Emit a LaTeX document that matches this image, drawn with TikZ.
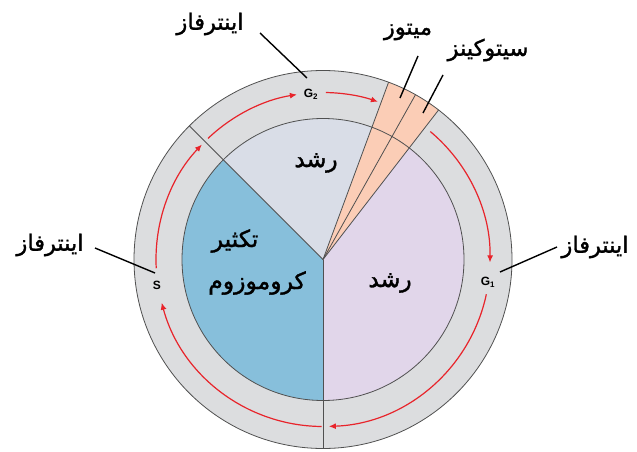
\documentclass[tikz,border=0pt]{standalone}
\usepackage{fontspec}
\setmainfont{Liberation Sans}
\newfontfamily\arabicfont[Script=Arabic,FakeBold=1.5]{DejaVu Sans}
\TeXXeTstate=1
\usetikzlibrary{arrows.meta,calc}
\definecolor{ringgray}{HTML}{DCDDDF}
\definecolor{salmon}{HTML}{FBCDB6}
\definecolor{chromblue}{HTML}{87BFDB}
\definecolor{lavender}{HTML}{E1D6EA}
\definecolor{paleblue}{HTML}{D9DDE7}
\definecolor{arrowred}{HTML}{E8242B}
\definecolor{edgegray}{HTML}{505050}
\tikzset{
  edge/.style={draw=edgegray, line width=0.8pt},
  redarc/.style={draw=arrowred, line width=1.2pt, -{Latex[length=7pt,width=6pt]}},
  fa/.style={font=\arabicfont\fontsize{22.5}{26}\selectfont, inner sep=1pt},
  fain/.style={font=\arabicfont\fontsize{23.5}{27}\selectfont, inner sep=1pt},
  phase/.style={font=\bfseries\fontsize{12}{13}\selectfont, inner sep=1pt},
  leader/.style={draw=black, line width=1.4pt}
}
\begin{document}
\begin{tikzpicture}[x=1pt,y=1pt]
\useasboundingbox (0,0) rectangle (637,451);
\coordinate (C) at (323,191.5);
% outer ring
\fill[ringgray] (C) circle[radius=189];
% salmon wedge through ring
\fill[salmon] (C) -- ($(C)+(52.3:189)$) arc[start angle=52.3,end angle=69.7,radius=189] -- cycle;
% inner sectors
\fill[chromblue] (C) -- ($(C)+(135:141)$) arc[start angle=135,end angle=270,radius=141] -- cycle;
\fill[paleblue] (C) -- ($(C)+(69.7:141)$) arc[start angle=69.7,end angle=135,radius=141] -- cycle;
\fill[lavender] (C) -- ($(C)+(-90:141)$) arc[start angle=-90,end angle=52.3,radius=141] -- cycle;
% edges
\draw[edge] (C) circle[radius=189];
\draw[edge] (C) circle[radius=141];
\foreach \a in {135,270,52.3,60.7,69.7}{
  \draw[edge] (C) -- ($(C)+(\a:189)$);
}
% red cycle arrows
\draw[redarc] ($(C)+(50:167)$) arc[start angle=50,end angle=-1,radius=167];
\draw[redarc] ($(C)+(-12:167)$) arc[start angle=-12,end angle=-88,radius=167];
\draw[redarc] ($(C)+(269.5:167)$) arc[start angle=269.5,end angle=195,radius=167];
\draw[redarc] ($(C)+(183:167)$) arc[start angle=183,end angle=136.5,radius=167];
\draw[redarc] ($(C)+(133.5:167)$) arc[start angle=133.5,end angle=99,radius=167];
\draw[redarc] ($(C)+(89:167)$) arc[start angle=89,end angle=70.8,radius=167];
% phase labels
\node[phase] (g2) at (311,357) {G\textsubscript{2}};
\node[phase] (s) at (157,166) {S};
\node[phase] (g1) at (488,169) {G\textsubscript{1}};
% inner texts
\node[fain] (grow1) at (316,288) {\beginR رشد\endR};
\node[fain] (grow2) at (390,168) {\beginR رشد\endR};
\node[fain] (dup1) at (235,210) {\beginR تکثیر\endR};
\node[fain] (dup2) at (257,168) {\beginR کروموزوم\endR};
% outer labels
\node[fa] (itop) at (210,427) {\beginR اینترفاز\endR};
\node[fa] (ileft) at (50,206) {\beginR اینترفاز\endR};
\node[fa] (iright) at (595,204) {\beginR اینترفاز\endR};
\node[fa] (mit) at (408,419) {\beginR میتوز\endR};
\node[fa] (cyt) at (488,401) {\beginR سیتوکینز\endR};
% leader ends
\coordinate (ptop) at (307,373);
\coordinate (pleft) at (155,178);
\coordinate (pright) at (500,179);
\coordinate (pmit) at (400,353);
\coordinate (pcyt) at (423,338);
\draw[leader] (260,418) coordinate (qtop) -- (ptop);
\draw[leader] (95,203) coordinate (qleft) -- (pleft);
\draw[leader] (557,204) coordinate (qright) -- (pright);
\draw[leader] (418,395) coordinate (qmit) -- (pmit);
\draw[leader] (443,376) coordinate (qcyt) -- (pcyt);
\end{tikzpicture}
\end{document}
